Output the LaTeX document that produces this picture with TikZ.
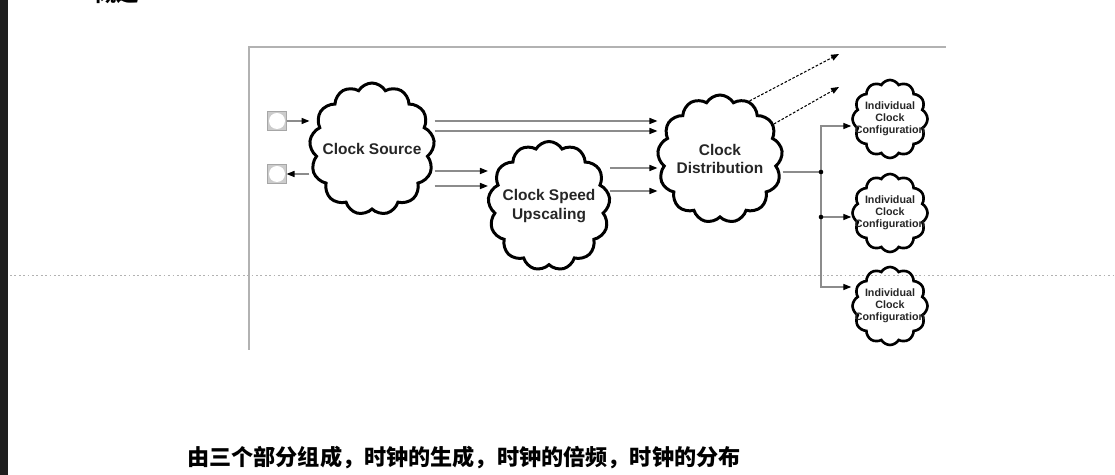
\documentclass[tikz,border=0pt]{standalone}
\usepackage{fontspec}
\setmainfont{Liberation Sans}
\newfontfamily\cjk{Noto Sans CJK SC}
\usetikzlibrary{shapes.symbols, arrows.meta, positioning}

\begin{document}
\begin{tikzpicture}[x=0.02cm, y=-0.02cm,
  blob/.style={cloud, draw, line width=1.7pt, cloud puffs=13, cloud puff arc=120, aspect=1, inner sep=0pt, label={[blobtext]center:#1}},
  blobtext/.style={align=center, font=\bfseries\fontsize{8.8}{10.3}\selectfont, text=black!85},
  smallblob/.style={cloud, draw, line width=1.5pt, cloud puffs=12, cloud puff arc=120, aspect=1, inner sep=0pt, minimum width=1.5cm, minimum height=1.56cm, label={[blobtext, font=\bfseries\fontsize{6.1}{6.8}\selectfont]center:Individual\\Clock\\Configuration}},
  port/.style={draw=black!35, fill=black!20, minimum size=0.37cm, inner sep=0pt, path picture={\fill[white] (path picture bounding box.center) circle (0.16cm);}},
  link/.style={draw=black!45, line width=0.6pt, -{Triangle[black, length=4.5pt, width=3.5pt]}},
  wire/.style={draw=black!45, line width=0.6pt},
  dotlink/.style={black, line width=0.6pt, dash pattern=on 1.5pt off 1pt, -{Triangle[black, length=4.5pt, width=3.5pt]}},
  frame/.style={draw=black!30, line width=0.6pt}
]
  \useasboundingbox (0,0) rectangle (1115,475);
  \clip (0,0) rectangle (1115,475);
  \fill[black!88] (0,0) rectangle (8,475);
  \node[anchor=base west, font=\cjk\bfseries\fontsize{12.8}{14}\selectfont] (head) at (88,2) {概述};

  % frame and guide line
  \draw[frame] (249,350) -- (249,47) -- (946,47);
  \draw[black!30, line width=0.5pt, dash pattern=on 1pt off 1.5pt] (10,275) -- (1115,275);

  % clouds
  \node[blob={Clock Source}, minimum width=2.5cm, minimum height=2.64cm] (src) at (372,149) {};
  \node[blob={Clock Speed\\Upscaling}, minimum width=2.44cm, minimum height=2.58cm] (up) at (549,206) {};
  \node[blob={Clock\\Distribution}, minimum width=2.5cm, minimum height=2.56cm] (dist) at (720,159) {};
  \node[smallblob] (icc1) at (890,119) {};
  \node[smallblob] (icc2) at (890,213) {};
  \node[smallblob] (icc3) at (890,306) {};

  % ports
  \node[port] (p1) at (277,121) {};
  \node[port] (p2) at (277,174) {};
  \draw[link] (p1.east) -- (src.west |- p1);
  \draw[link] (src.west |- p2) -- (p2.east);

  % source to upscaling and distribution
  \draw[link] (src.east |- 0,121) -- (dist.west |- 0,121);
  \draw[link] (src.east |- 0,131) -- (dist.west |- 0,131);
  \draw[link] (src.east |- 0,171) -- (up.west |- 0,171);
  \draw[link] (src.east |- 0,186) -- (up.west |- 0,186);
  \draw[link] (up.east |- 0,168) -- (dist.west |- 0,168);
  \draw[link] (up.east |- 0,191) -- (dist.west |- 0,191);

  % outputs
  \coordinate (out1) at (839,54);
  \coordinate (out2) at (839,87);
  \draw[dotlink] (dist.63) -- (out1);
  \draw[dotlink] (dist.33) -- (out2);

  \coordinate (bus) at (821,172);
  \draw[wire] (dist.east |- bus) -- (bus);
  \draw[link] (bus) |- (icc1.west |- 0,126);
  \draw[link] (bus) |- (icc2.west |- 0,217);
  \draw[link] (bus) |- (icc3.west |- 0,287);
  \fill (bus) circle (1.3pt);
  \fill (bus |- 0,217) circle (1.3pt);

  \node[anchor=west, font=\cjk\bfseries\fontsize{12.6}{14}\selectfont] (note) at (181,458) {由三个部分组成，时钟的生成，时钟的倍频，时钟的分布};
\end{tikzpicture}
\end{document}
